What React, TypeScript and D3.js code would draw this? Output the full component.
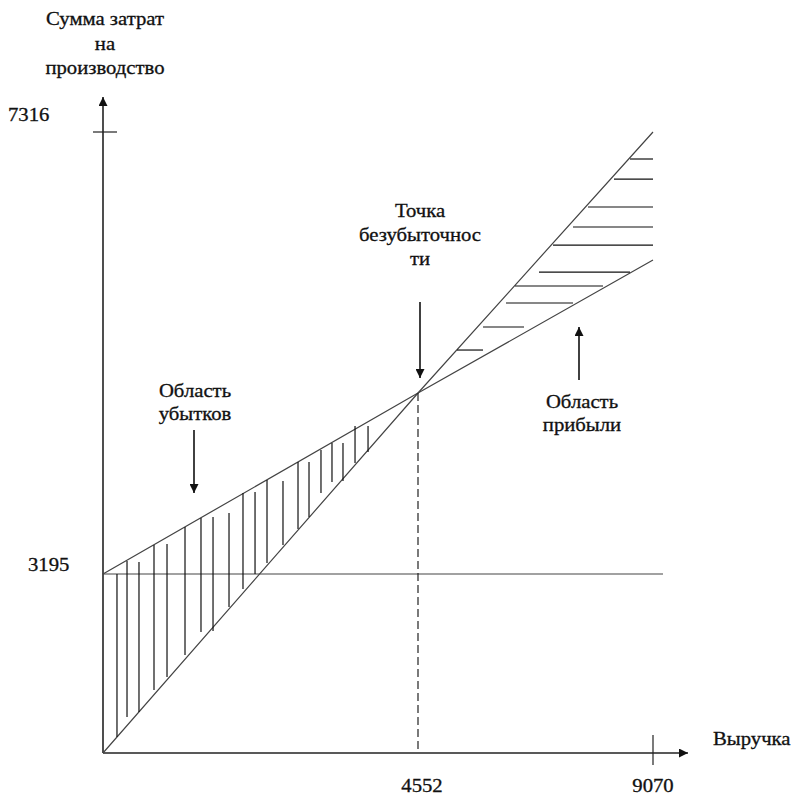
import React from "react";
import * as d3 from "d3";

// Tick values (schematic axes)
const xTicks = [4552, 9070];
const yTicks = [3195, 7316];
const breakEven = { x: 4552, y: 4552 };
const fixedCost = 3195;
const xMax = 9070;
const revenueLine = [
  { x: 0, y: 0 },
  { x: 4552, y: 4552 },
  { x: 9070, y: 7316 },
];
const costLine = [
  { x: 0, y: 3195 },
  { x: 4552, y: 4552 },
  { x: 9070, y: 5960 },
];
// vertical hatch in loss area: [x, yTop, yBottom]
const lossHatch: [number, number, number][] = [
  [202, 3195, 286], [347, 3292, 643], [520, 3285, 732], [737, 3412, 1124],
  [925, 3420, 1357], [1185, 3547, 1749], [1416, 3615, 2160], [1590, 3622, 2178],
  [1821, 3652, 2606], [2023, 3802, 2927], [2197, 3810, 3195], [2370, 3900, 3277],
  [2601, 3892, 3412], [2818, 4035, 3532], [2977, 4035, 3622], [3150, 4125, 3802],
  [3309, 4177, 3885], [3468, 4177, 3892], [3642, 4305, 4027], [3830, 4305, 4110],
];
// horizontal hatch in profit area: [y, xStart, xEnd]
const profitHatch: [number, number, number][] = [
  [7030, 8628, 9070], [6818, 8320, 9070], [6522, 7820, 9070], [6310, 7532, 9070],
  [6119, 7148, 9070], [5833, 6878, 8628], [5685, 6417, 8109], [5505, 6244, 7532],
  [5251, 5802, 6590], [5007, 5302, 5802],
];
const titleLines = ["Сумма затрат", "на", "производство"];
const beLabel = ["Точка", "безубыточнос", "ти"];
const lossLabel = ["Область", "убытков"];
const profitLabel = ["Область", "прибыли"];
const xAxisLabel = "Выручка";

const x = d3.scaleLinear().domain([0, 4552, 9070]).range([103, 418, 653]);
const y = d3.scaleLinear().domain([0, 3195, 4552, 7316]).range([753, 574, 393, 132]);

const FONT = "Liberation Serif, Tinos, Times New Roman, DejaVu Serif, serif";
const SX = 1.12;

function T({ px, py, children, anchor = "middle" }: any) {
  return (
    <text
      transform={`translate(${px},${py}) scale(${SX},1)`}
      textAnchor={anchor}
      style={{ fontFamily: FONT, fontSize: "18.5px" }}
      fill="#111"
      stroke="#111"
      strokeWidth={0.3}
    >
      {children}
    </text>
  );
}

export default function App() {
  const line = d3
    .line<{ x: number; y: number }>()
    .x((d) => x(d.x))
    .y((d) => y(d.y));
  const x0 = x(0);
  const y0 = y(0);
  const axisEndX = x(xMax) + 35;
  const axisEndY = y(7316) - 35;
  const lineColor = "#444";
  return (
    <svg
      width={795}
      height={795}
      style={{ position: "absolute", left: 0, top: 0, background: "#fff" }}
    >
      <defs>
        <marker id="arr" viewBox="0 0 10 10" refX="10" refY="5" markerWidth="9" markerHeight="9" markerUnits="userSpaceOnUse" orient="auto">
          <path d="M0,0 L10,5 L0,10 z" fill="#111" />
        </marker>
      </defs>
      {/* axes */}
      <line x1={x0} y1={y0} x2={x0} y2={axisEndY} stroke="#222" strokeWidth={1.6} markerEnd="url(#arr)" />
      <line x1={x0} y1={y0} x2={axisEndX} y2={y0} stroke="#222" strokeWidth={1.6} markerEnd="url(#arr)" />
      {/* ticks */}
      <line x1={x0 - 10} x2={x0 + 14} y1={y(yTicks[1])} y2={y(yTicks[1])} stroke="#222" strokeWidth={1.2} />
      <line x1={x(xTicks[1])} x2={x(xTicks[1])} y1={y0 - 18} y2={y0 + 12} stroke="#222" strokeWidth={1.2} />
      {/* tick labels */}
      <T px={8} py={y(yTicks[1]) - 11} anchor="start">{yTicks[1]}</T>
      <T px={28} py={y(yTicks[0]) - 3} anchor="start">{yTicks[0]}</T>
      <T px={x(xTicks[0]) + 4} py={792}>{xTicks[0]}</T>
      <T px={x(xTicks[1])} py={792}>{xTicks[1]}</T>
      <T px={713} py={745} anchor="start">{xAxisLabel}</T>
      {titleLines.map((t, i) => (
        <T key={i} px={105} py={25 + i * 24.5}>{t}</T>
      ))}
      {/* fixed cost */}
      <line x1={x0} x2={x(9262)} y1={y(fixedCost)} y2={y(fixedCost)} stroke={lineColor} strokeWidth={1.2} />
      {/* revenue and cost lines */}
      <path d={line(revenueLine) || ""} fill="none" stroke={lineColor} strokeWidth={1.2} />
      <path d={line(costLine) || ""} fill="none" stroke={lineColor} strokeWidth={1.2} />
      {/* dashed break-even */}
      <line x1={x(breakEven.x)} x2={x(breakEven.x)} y1={y(breakEven.y)} y2={y0} stroke="#222" strokeWidth={1.2} strokeDasharray="8,4" />
      {/* hatches */}
      {lossHatch.map(([hx, t, b], i) => (
        <line key={"l" + i} x1={x(hx)} x2={x(hx)} y1={y(t)} y2={y(b)} stroke="#111" strokeWidth={1.2} />
      ))}
      {profitHatch.map(([hy, a, b], i) => (
        <line key={"p" + i} x1={x(a)} x2={x(b)} y1={y(hy)} y2={y(hy)} stroke="#111" strokeWidth={1.2} />
      ))}
      {/* annotations */}
      {beLabel.map((t, i) => (
        <T key={i} px={420} py={217 + i * 24}>{t}</T>
      ))}
      <line x1={420} x2={420} y1={302} y2={378} stroke="#111" strokeWidth={1.6} markerEnd="url(#arr)" />
      {lossLabel.map((t, i) => (
        <T key={i} px={195} py={397 + i * 23}>{t}</T>
      ))}
      <line x1={194} x2={194} y1={430} y2={493} stroke="#111" strokeWidth={1.6} markerEnd="url(#arr)" />
      {profitLabel.map((t, i) => (
        <T key={i} px={582} py={408 + i * 23}>{t}</T>
      ))}
      <line x1={579} x2={579} y1={380} y2={327} stroke="#111" strokeWidth={1.6} markerEnd="url(#arr)" />
    </svg>
  );
}
